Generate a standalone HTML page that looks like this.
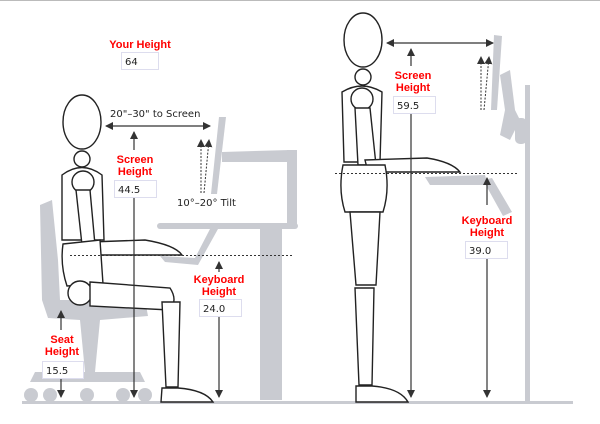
<!DOCTYPE html>
<html><head><meta charset="utf-8"><style>
html,body{margin:0;padding:0;background:#fff;}
svg{display:block;}
.r{font-family:"Liberation Sans",sans-serif;font-weight:bold;font-size:11px;fill:#f00;text-anchor:middle;}
.b{font-family:"DejaVu Sans","Liberation Sans",sans-serif;font-size:10px;fill:#222;}
.g{fill:#c9cbd1;stroke:none;}
.f{fill:#fff;stroke:#222;stroke-width:1.4;}
.a{stroke:#333;stroke-width:1.2;fill:none;}
.box{fill:#fff;stroke:#dde;stroke-width:1;}
</style></head><body>
<svg width="600" height="424" viewBox="0 0 600 424" xmlns="http://www.w3.org/2000/svg">
<defs><marker id="ah" markerWidth="8" markerHeight="8" refX="7" refY="4" orient="auto-start-reverse" markerUnits="userSpaceOnUse"><path d="M0,0 L8,4 L0,8 z" fill="#333"/></marker></defs>
<line x1="0" y1="0.5" x2="600" y2="0.5" stroke="#bbb" stroke-width="1"/>
<!-- left furniture -->
<path class="g" d="M40,205 L52,200 L58,260 L60,300 L145,300 L148,316 L100,320 L95,372 L140,372 L145,382 L30,382 L35,372 L85,372 L80,320 L48,318 L42,300 Z"/>
<circle class="g" cx="31" cy="395" r="7"/><circle class="g" cx="50" cy="395" r="7"/><circle class="g" cx="87" cy="395" r="7"/><circle class="g" cx="123" cy="395" r="7"/><circle class="g" cx="145" cy="395" r="7"/>
<path class="g" d="M219,117 L226,117 L217,194 L211,194 Z"/>
<path class="g" d="M222,152 L290,150 L290,162 L222,162 Z"/>
<rect class="g" x="287" y="150" width="10" height="78"/>
<rect class="g" x="157" y="223" width="141" height="6" rx="3"/>
<rect class="g" x="260" y="228" width="22" height="172"/>
<path class="g" d="M210,229 L218,229 L198,265 L165,262 L160,256 L195,258 Z"/>
<rect class="g" x="22" y="401" width="278" height="3"/>
<!-- right furniture -->
<path class="g" d="M494,35 L502,36 L497,110 L491,110 Z"/>
<path class="g" d="M500,75 L510,70 L515,110 L520,120 L510,140 L500,135 L505,110 Z"/>
<rect class="g" x="525" y="85" width="5" height="317"/>
<rect class="g" x="515" y="118" width="12" height="26" rx="5"/>
<path class="g" d="M425,177 L485,175 L488,185 L430,185 Z"/>
<path class="g" d="M483,180 L492,178 L512,212 L503,216 Z"/>
<rect class="g" x="300" y="401" width="273" height="3"/>
<!-- seated figure -->
<ellipse class="f" cx="82" cy="122" rx="19" ry="27"/>
<circle class="f" cx="82" cy="159" r="8"/>
<path class="f" d="M62,175 Q82,160 102,175 L104,240 L62,240 Z"/>
<circle class="f" cx="83" cy="182" r="11"/>
<path class="f" d="M76,190 L90,190 L95,245 L82,245 Z"/>
<path class="f" d="M90,242 L145,240 Q175,245 182,255 L95,255 Z"/>
<path class="f" d="M63,244 L100,240 L103,284 L67,286 Q60,265 63,244 Z"/>
<ellipse class="f" cx="80" cy="293" rx="12" ry="12"/>
<path class="f" d="M90,282 L170,288 Q178,300 170,310 L90,306 Z"/>
<path class="f" d="M162,302 L180,302 L178,387 L166,387 Z"/>
<path class="f" d="M162,388 L178,388 Q205,390 213,402 L161,402 Z"/>
<!-- standing figure -->
<ellipse class="f" cx="363" cy="40" rx="19" ry="27"/>
<circle class="f" cx="363" cy="77" r="8"/>
<path class="f" d="M342,92 Q362,80 382,92 L380,162 L344,162 Z"/>
<circle class="f" cx="362" cy="99" r="11"/>
<path class="f" d="M355,108 L370,108 L376,165 L358,165 Z"/>
<path class="f" d="M365,160 L427,158 Q452,162 460,172 L368,172 Z"/>
<path class="f" d="M343,165 L385,165 Q390,190 383,212 L345,212 Q338,190 343,165 Z"/>
<path class="f" d="M350,212 L380,212 L376,285 L356,285 Z"/>
<path class="f" d="M355,288 L374,288 L372,385 L359,385 Z"/>
<path class="f" d="M356,386 L372,386 Q400,388 408,402 L356,402 Z"/>
<!-- dotted keyboard lines -->
<line x1="70" y1="255.5" x2="292" y2="255.5" stroke="#333" stroke-width="1" stroke-dasharray="2,2"/>
<line x1="335" y1="173.5" x2="517" y2="173.5" stroke="#333" stroke-width="1" stroke-dasharray="2,2"/>
<!-- left arrows -->
<line class="a" x1="106" y1="126" x2="210" y2="126" marker-end="url(#ah)" marker-start="url(#ah)"/>
<line class="a" x1="134" y1="150" x2="134" y2="132" marker-end="url(#ah)"/>
<line class="a" x1="134" y1="198" x2="134" y2="397" marker-end="url(#ah)"/>
<line x1="201" y1="193" x2="201" y2="140" stroke="#333" stroke-dasharray="2,1.5" marker-end="url(#ah)"/>
<line x1="204" y1="193" x2="209" y2="140" stroke="#333" stroke-dasharray="2,1.5" marker-end="url(#ah)"/>
<line class="a" x1="219" y1="272" x2="219" y2="262" marker-end="url(#ah)"/>
<line class="a" x1="219" y1="317" x2="219" y2="397" marker-end="url(#ah)"/>
<line class="a" x1="61" y1="330" x2="61" y2="311" marker-end="url(#ah)"/>
<line class="a" x1="61" y1="378" x2="61" y2="397" marker-end="url(#ah)"/>
<!-- right arrows -->
<line class="a" x1="387" y1="43" x2="493" y2="43" marker-end="url(#ah)" marker-start="url(#ah)"/>
<line class="a" x1="411" y1="66" x2="411" y2="49" marker-end="url(#ah)"/>
<line class="a" x1="411" y1="113" x2="411" y2="397" marker-end="url(#ah)"/>
<line x1="481" y1="110" x2="481" y2="57" stroke="#333" stroke-dasharray="2,1.5" marker-end="url(#ah)"/>
<line x1="484" y1="110" x2="489" y2="57" stroke="#333" stroke-dasharray="2,1.5" marker-end="url(#ah)"/>
<line class="a" x1="487" y1="205" x2="487" y2="178" marker-end="url(#ah)"/>
<line class="a" x1="487" y1="258" x2="487" y2="397" marker-end="url(#ah)"/>
<!-- labels -->
<text class="r" x="140" y="48">Your Height</text>
<rect class="box" x="121.5" y="52.5" width="37" height="17"/><text class="b" x="125" y="65">64</text>
<text class="b" x="110" y="117">20"–30" to Screen</text>
<text class="r" x="135" y="163">Screen</text><text class="r" x="135" y="175">Height</text>
<rect class="box" x="114.5" y="180.5" width="42" height="17"/><text class="b" x="118" y="193">44.5</text>
<text class="b" x="177" y="206">10°–20° Tilt</text>
<text class="r" x="219" y="283">Keyboard</text><text class="r" x="219" y="295">Height</text>
<rect class="box" x="199.5" y="299.5" width="42" height="17"/><text class="b" x="203" y="312">24.0</text>
<text class="r" x="62" y="343">Seat</text><text class="r" x="62" y="355">Height</text>
<rect class="box" x="42.5" y="361.5" width="41" height="17"/><text class="b" x="46" y="374">15.5</text>
<text class="r" x="413" y="79">Screen</text><text class="r" x="413" y="91">Height</text>
<rect class="box" x="393.5" y="96.5" width="42" height="17"/><text class="b" x="397" y="109">59.5</text>
<text class="r" x="487" y="224">Keyboard</text><text class="r" x="487" y="236">Height</text>
<rect class="box" x="465.5" y="241.5" width="42" height="17"/><text class="b" x="469" y="254">39.0</text>
</svg>
</body></html>
